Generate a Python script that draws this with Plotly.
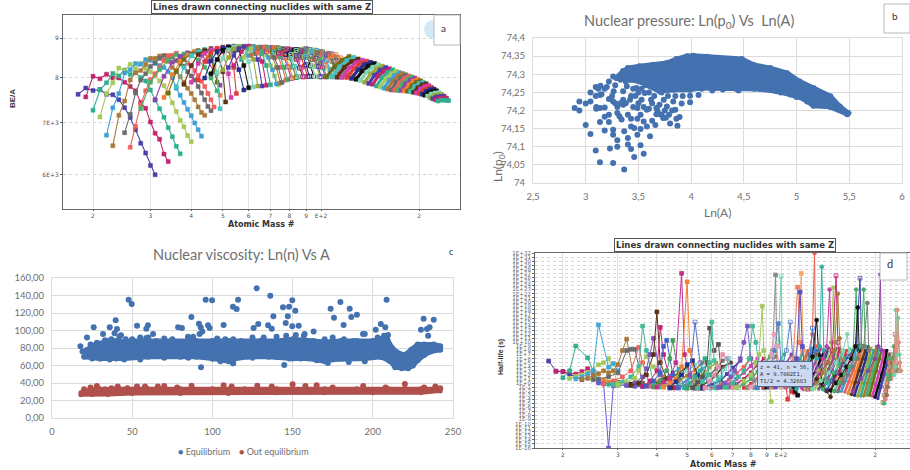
import plotly.graph_objects as go

W, H = 910, 470

# ---------- panel a: BE/A against mass number, one list per Z ----------
a_A = [
 [18,19,20,21,22,23,24,25,26,27,28,29,30,31],
 [19,20,21,22,23,24,25,26,27,28,29,30,31,32,33,34],
 [20,21,22,23,24,25,26,27,28,29,30,31,32,33,34,35,36,37],
 [21,22,23,24,25,26,27,28,29,30,31,32,33,34,35,36,37,38,39,40],
 [22,23,24,25,26,27,28,29,30,31,32,33,34,35,36,37,38,39,40,41,42,43],
 [23,24,25,26,27,28,29,30,31,32,33,34,35,36,37,38,39,40,41,42,43,44],
 [25,26,27,28,29,30,31,32,33,34,35,36,37,38,39,40,41,42,43,44,45,46],
 [26,27,28,29,30,31,32,33,34,35,36,37,38,39,40,41,42,43,44,45,46,47],
 [28,30,32,34,36,38,40,42,44,46,48],
 [31,33,35,37,39,41,43,45,47,49],
 [33,35,37,39,41,43,45,47,49],
 [34,36,38,40,42,44,46,48],
 [36,38,40,42,44,46,48,49],
 [38,40,42,44,46,48,50,51],
 [40,42,44,46,48,50,52,53],
 [42,44,46,48,50,52,54,55],
 [44,46,48,50,52,54,56,58],
 [46,48,50,52,54,56,58,60],
 [48,50,52,54,56,58,60,62],
 [50,52,54,56,58,60,62,64],
 [52,54,56,58,60,62,64,66],
 [54,57,60,62,64,66,68],
 [57,60,62,64,66,68,70],
 [58,61,64,66,68,70,72,74],
 [60,63,65,67,69,71,73],
 [61,64,67,69,71,73,75],
 [63,66,68,70,72,74,76],
 [64,67,70,72,74,76,78],
 [66,69,71,73,75,77,79],
 [68,71,73,75,77,79,81],
 [69,72,74,76,78,80,82],
 [71,74,76,78,80,82,84],
 [72,75,77,79,81,83,85],
 [74,77,79,81,84,86,88],
 [75,78,80,82,85,87,89],
 [77,80,83,85,87,89,91],
 [78,81,84,86,88,90,92],
 [80,83,86,89,91,93,95],
 [81,84,87,90,92,94,96],
 [83,86,89,92,95,97,99],
 [84,87,90,93,96,98,100],
 [86,89,92,95,99,101,103],
 [87,90,93,96,100,102,104],
 [89,93,96,99,103,106,108],
 [90,94,97,100,104,107,109],
 [93,97,100,104,108,111,113],
 [94,98,101,105,109,112,114],
 [97,101,105,109,113,116,118],
 [98,102,106,110,114,117,119],
 [100,104,108,112,116,120,123],
 [103,107,111,115,119,123,126],
 [104,110,116,122,126],[108,114,120,126,130],[112,118,124,130,134],[116,122,128,134,138],
 [120,126,132,138,142],[124,130,136,142,146],[128,134,140,146,150],[132,138,144,150,154],
 [136,142,148,154,158],[140,146,152,158,162],[144,150,156,162,166],[148,154,160,166,170],
 [152,158,164,170,174],[156,162,168,174,178],[160,166,172,178,182],[164,170,176,182,186],
 [168,174,180,186,190],[172,178,184,190,194],[176,182,188,194,198],[180,186,192,198,202],
 [184,190,196,202,206],[188,194,200,206,210],[192,198,204,210,214],[196,202,208,214,218],
 [200,206,212,218,222],[204,210,216,222,226],[208,214,220,226,230],[212,218,224,230,234],
 [216,222,228,234,238],[220,226,232,238,242],[224,230,236,242,244],[228,234,240,246],
]
a_BE = [
 [7620,7765,7705,7730,7620,7610,7500,7325,7115,6860,6590,6400,6170,6000],
 [7563,8040,7980,8090,8000,8000,7900,7800,7700,7440,7310,7020,6790,6670,6380,6240],
 [7270,7720,7885,8110,8050,8190,8080,8130,8010,7930,7720,7490,7300,7120,6900,6720,6530,6385],
 [7125,7640,7885,8240,8170,8330,8225,8350,8230,8150,8050,7930,7820,7640,7430,7240,7055,6920,6740,6620],
 [6750,7320,7640,8120,8200,8350,8330,8450,8430,8350,8300,8250,8150,8000,7760,7600,7440,7290,7150,7000,6860,6730],
 [6540,7160,7470,7950,8120,8180,8330,8480,8480,8540,8430,8400,8250,8180,8030,7900,7760,7640,7500,7340,7220,7160],
 [6800,7180,7650,7950,8100,8280,8370,8480,8550,8520,8510,8420,8350,8290,8150,8050,7950,7800,7650,7500,7350,7260],
 [6510,6930,7395,7700,7960,8100,8250,8430,8550,8560,8610,8510,8510,8360,8300,8180,8060,7920,7800,7640,7500,7340],
 [7300,7900,8200,8440,8570,8590,8560,8440,8260,8000,7700],
 [7500,8040,8380,8530,8620,8640,8560,8400,8150,7830],
 [7550,8080,8400,8570,8660,8640,8520,8300,7600],
 [7650,8150,8450,8600,8680,8690,8550,7900],
 [7800,8250,8550,8650,8710,8650,8100,7300],
 [7850,8300,8580,8680,8730,8640,8150,7450],
 [7900,8350,8610,8700,8740,8650,8100,7550],
 [7950,8400,8630,8730,8770,8680,8250,7640],
 [8000,8420,8650,8750,8780,8680,8200,7720],
 [8100,8450,8680,8770,8790,8700,8300,7770],
 [8130,8480,8700,8775,8790,8720,8400,7790],
 [8200,8500,8720,8780,8790,8760,8460,7810],
 [8250,8550,8730,8785,8790,8750,8450,7810],
 [8300,8650,8790,8780,8700,8400,7830],
 [8450,8720,8780,8750,8600,8300,7840],
 [8500,8740,8770,8720,8560,8300,8050,7840],
 [8550,8750,8770,8720,8500,8200,7860],
 [8560,8750,8770,8700,8520,8250,7880],
 [8600,8760,8770,8700,8500,8250,7900],
 [8620,8760,8760,8690,8520,8260,7950],
 [8650,8750,8760,8680,8520,8260,7960],
 [8650,8750,8750,8670,8500,8270,7990],
 [8650,8750,8745,8650,8500,8260,8000],
 [8650,8740,8730,8660,8500,8270,8010],
 [8640,8720,8720,8640,8480,8280,8030],
 [8620,8710,8720,8660,8460,8240,8030],
 [8600,8700,8710,8650,8450,8250,8030],
 [8600,8700,8700,8650,8500,8290,8040],
 [8580,8690,8700,8650,8520,8320,8040],
 [8590,8690,8700,8650,8510,8290,8040],
 [8580,8680,8700,8640,8500,8280,8040],
 [8560,8680,8720,8650,8490,8290,8030],
 [8550,8670,8720,8640,8480,8280,8030],
 [8540,8660,8710,8650,8470,8260,8030],
 [8530,8660,8700,8640,8460,8250,8030],
 [8510,8650,8690,8610,8430,8210,8030],
 [8500,8650,8680,8600,8420,8200,8030],
 [8460,8630,8650,8570,8410,8190,8030],
 [8450,8620,8640,8560,8400,8180,8030],
 [8410,8600,8610,8530,8340,8160,8040],
 [8400,8590,8600,8520,8330,8150,8040],
 [8350,8570,8590,8500,8320,8120,8040],
 [8300,8540,8570,8490,8300,8100,8030],
 [8030,8280,8430,8530,8440],[8030,8270,8420,8505,8420],[8020,8260,8400,8465,8380],[8010,8240,8370,8435,8350],
 [8010,8220,8350,8410,8320],[7990,8200,8320,8380,8290],[7970,8170,8290,8350,8260],[7940,8140,8260,8320,8230],
 [7900,8100,8220,8285,8200],[7870,8070,8190,8255,8170],[7850,8050,8160,8225,8140],[7810,8010,8130,8195,8110],
 [7790,7980,8100,8160,8080],[7760,7950,8060,8130,8050],[7740,7930,8040,8105,8030],[7720,7900,8010,8075,8000],
 [7715,7890,7990,8050,7970],[7710,7870,7970,8025,7950],[7705,7860,7950,8000,7920],[7700,7840,7930,7970,7890],
 [7690,7820,7900,7935,7860],[7680,7800,7870,7900,7820],[7665,7770,7840,7865,7790],[7650,7750,7800,7825,7750],
 [7640,7720,7770,7780,7710],[7620,7690,7730,7740,7670],[7600,7660,7690,7700,7630],[7580,7630,7650,7660,7590],
 [7545,7590,7610,7620,7560],[7520,7560,7570,7580,7520],[7500,7530,7540,7540,7490],[7470,7490,7490,7480],
]

# ---------- panel d: log10 half-life against mass number ----------
d_base_A = [
 [24,27,30,33,36,39],[27,30,33,36,39,42],[30,33,36,39,42,45],[32,35,38,41,44,47],[35,38,41,44,47,50],
 [38,41,44,47,50,53],[41,44,47,50,53,56],[44,47,50,53,56,59],[47,50,53,56,59,62],[50,53,56,59,62,65],
 [53,56,59,62,65,69],[56,60,64,67,70,74],[60,64,68,72,76,80],[64,68,72,76,80,84],[68,72,76,80,84,88],
 [72,76,80,84,88,92],[76,80,84,88,92,96],[82,86,90,94,98,102],[88,92,96,100,104,108],
]
d_base_N = [
 [1,0.5,0,-0.3,-0.6,0.5],[0.8,0.2,-0.3,-0.5,0,1.5],[0.2,-0.2,-0.5,-0.3,0.8,2.5],[-0.2,-0.5,-0.6,0.2,1.8,3.5],[-0.5,-0.7,0,1,2.5,4],
 [-0.7,-0.8,0.2,1.5,3,4.5],[-0.8,-0.6,0.5,1.8,3.2,5],[-0.9,-0.5,0.6,2,3.5,5],[-1,-0.5,0.6,2,3.8,5],[-1,-0.5,0.5,2,3.5,5.5],
 [-1,-0.5,0.5,2,4,5],[-1,-0.4,0.6,2.2,3.8,5.5],[-1.1,-0.3,0.8,2.4,4,6],[-1.1,-0.3,1,2.5,4.2,6],[-1.1,-0.2,1,2.6,4.5,6],
 [-1.2,-0.2,1,2.8,4.5,6.5],[-1.2,-0.2,1,2.8,4.5,6.5],[-1.2,-0.2,1.2,3,5,7],[-1.2,-0.2,1.2,3,5,7],
]
d_stripe_A = [
 [100,105,110,115,118],[104,109,114,119,122],[108,113,118,123,126],[112,117,122,127,130],
 [116,121,126,131,134],[120,125,130,135,138],[124,129,134,139,142],[128,133,138,143,146],
 [132,137,142,147,150],[136,141,146,151,154],[140,145,150,155,158],[144,149,154,159,162],
 [148,153,158,163,166],[152,157,162,167,170],[156,161,166,171,174],[160,165,170,175,178],
 [164,169,174,179,182],[168,173,178,183,186],[172,177,182,187,190],[176,181,186,191,194],
 [180,185,190,195,198],[184,189,194,199,202],[188,193,198,203,206],[192,197,202,207,210],
 [196,201,206,211,214],[200,205,210,215,218],[204,209,214,219,222],
]
d_stripe_N = [
 [-1,1,3,6,8],[-1,1,3.5,6,8],[-1,1.2,3.5,6,8.5],[-1.2,1,3.5,6.5,8],
 [-1.2,1,3.5,6.5,8.5],[-1.5,1,3.5,6.5,8],[-1.5,0.8,3.5,6.5,8.5],[-1.5,0.8,3.5,6.5,8],
 [-1.5,0.8,3.5,6,8.5],[-1.6,0.8,3.5,6,8.5],[-1.6,0.6,3,6,8],[-1.8,0.6,3,6,8],
 [-1.8,0.5,3,6,8.5],[-2,0.5,3,6,8],[-2,0.5,3,6,8.5],[-2.2,0.4,3,6,8],
 [-2.5,0.2,3,6,8.5],[-2.8,0.2,3,6,8],[-3,0,3,6,9],[-3.2,0,3,6,8.5],
 [-3.2,0,3,6,8],[-3.2,0,3,6,9],[-3,0,3,6,8.5],[-3,0,3,6,8],
 [-3.2,-0.5,2.5,5.5,8],[-3.5,-1,2,5,8],[-3.8,-1,2,5,7],
]
d_A = [
 [18,19,20,21,22,23],
 [19,20,22,23,24,25,26],
 [20,21,22,24,25,26,28,30],
 [21,22,23,24,26,27,28,30,32],
 [22,23,24,25,26,28,29,30,32],
 [23,24,25,26,27,28,29,30,31,32,34],
 [25,26,28,30,32,33,34,36],
 [26,27,28,29,30,32,34,36],
 [27,29,31,33,35,36,38,40],
 [29,31,33,35,36,37,39,41],
 [30,32,34,35,37,39,42],
 [32,34,36,37,38,39,41,44],
 [33,35,37,39,40,41,43,45],
 [36,38,40,41,42,44,46],
 [37,39,41,42,43,45,47],
 [39,41,43,44,45,47,50],
 [40,42,44,46,48,49,51,53],
 [42,44,46,48,50,51,53,55],
 [44,46,48,50,52,54,56],
 [47,49,51,53,55,57,59],
 [49,51,53,55,57,59,62],
 [52,54,56,58,59,61,63,65],
 [54,56,58,59,60,61,63,66],
 [57,59,61,63,65,67,70],
 [60,62,64,66,68,70,73],
 [63,66,69,71,74,76,78,80,83],
 [67,70,73,76,79,81,83,85,88],
 [72,76,80,83,85,87,88,90,93],
 [78,82,86,90,94,96,97,100],
 [82,86,90,94,98,100,101,104],
 [84,88,92,95,98,100,103],
 [80,85,90,93,95,97,100],
 [88,93,98,102,105,108,110],
 [90,95,100,105,109,111,113],
 [92,96,100,104,107,109,112],
 [94,99,104,110,114,116,118,120],
 [94,99,104,109,113,115,118],
 [96,102,108,112,115,117,120],
 [104,110,116,122,126,128,129,132],
 [108,114,120,124,126,128,131],
 [110,116,122,126,130,132,135],
 [112,118,124,130,133,135,137,140],
 [118,124,130,136,140,143,145,148],
 [120,126,132,138,144,147,149,152],
 [122,128,134,140,146,150,152,155],
 [124,130,136,142,148,152,154,157],
 [130,136,140,144,148],
 [126,134,142,150,158,163,166],
 [136,142,148,154,160,170,174,176],
 [140,146,152,158,164,174,179,181],
 [144,150,156,162,168,173,176,178],
 [148,154,160,166,172,180,184,186],
 [152,158,164,170,176,184,189,191],
 [170,180,190,200,205,208,210],
 [212,214,216,218,220,222,224],
 [214,216,218,220,222,226],
 [216,217,219,221,223,225],
 [218,220,222,224,226,228],
 [222,224,226,228,230,232,234],
 [226,228,230,232,234,236,238],
 [230,232,233,235,237,239,241],
 [228,231,234,236,238,240,242],
]
d_N = [
 [5.4,2.9,2.8,2.2,1.5,0.8],
 [2.9,2.8,2.2,2.8,3.5,2.5,0.5],
 [1.3,3,9.1,6.2,3,0.5,-0.3,-0.5],
 [1.1,1.6,2,2.6,4.5,5,6,0,-0.5],
 [1,1.5,2.2,3,14.3,3.9,4.8,3,-0.5],
 [0.9,1.2,1.8,2.3,3,2.5,3,4.5,8,10.8,0],
 [0.8,1,1.5,2.5,8,8.3,8.3,0],
 [0,-0.2,-16,-0.7,-0.5,-0.6,-0.8,-0.9],
 [-0.2,0.5,1.5,3,8.8,5,-0.8,-0.9],
 [-0.4,0.2,1.5,4,14,8,0,-1],
 [-0.5,0.2,1.2,3,6.5,4,-1],
 [-0.5,0,1.5,3.5,7,11,2,-1.2],
 [-0.6,0,2,7,17.5,5,1,-1.2],
 [-0.8,0.5,3,13.7,7,1,-1.2],
 [-0.8,0.5,2.5,9,10.5,2,-1.2],
 [-1,0.5,3,6,10.5,1.5,-1.3],
 [-1,0.2,1,5,27,7,2,-1.3],
 [-1,0,1,4,24.9,8,1.5,-1.3],
 [-1.2,0.3,2,4.5,5.5,2,-1.3],
 [-1.2,0,1.5,15,5,1.5,-1.2],
 [-1.2,0,1.5,3,6,2,-1.2],
 [-1.2,0.2,1.5,5,13.5,8,9.5,-1],
 [-1.3,0.3,2,5,15,5.5,1,-1],
 [-1.2,0.5,2,4,7,6,-1.2],
 [-1.2,0,1.5,3.5,6,2,-1.2],
 [-1.1,0,1.5,3,6,10,14,6,-1.1],
 [-1.1,0,1.5,3,6,14,10,4,-1.2],
 [-1.1,0.5,2,5,7,18.9,8,3,-4.6],
 [-1.2,0.5,2,4,8,26.6,5,-1],
 [-1.2,0.5,2.5,5,10,26.3,6,-1],
 [-1.2,0.5,3,8,14.6,5,-1],
 [-1,1,3,7,12,9,-1],
 [-1,0,1.5,3,-4,-2,-2.3],
 [-1,0.5,2,4,-0.5,-2,-3],
 [-1,0.5,3,8,15,6,-1],
 [-1,0.5,3,6,10,27,8,0],
 [-1,0.5,2.5,5,23.6,10,0],
 [-1,1,3,6,22.4,9,0],
 [-1,1,3,7,12,32,9,0],
 [-1,1,4,7,13.5,8,0],
 [-1,1.5,4,6.5,15.5,7,0],
 [-1.5,1,3.5,6,9,28.6,8,0],
 [-1.5,0.5,3,6,9,23,10,1],
 [-1.5,0.5,3,5,8,23.5,10,1],
 [-1.5,0,2.5,5,8,26.4,10,1],
 [-1.5,0,2.5,5,8,22,11,1],
 [1,-1,-2,-3.4,2],
 [-1.5,0.5,2.5,5,8,12,4],
 [-1.5,0.5,2.5,4.5,6,8,23,9],
 [-1.8,0.5,2.5,4.5,6.5,9,25.8,9],
 [-1.8,0,2,4,6,9,18.6,8],
 [-2,0,2,4,6,9,23,9],
 [-2,0,2,4,6,9,19.7,8],
 [-2,1,3,6,9,26.7,8],
 [-4.8,-3,-1,1,3,5,7],
 [-5,-2,0,2,6,3],
 [-4,-2,0,3,5,1],
 [-3,-1,1,3,5,3],
 [1,2,3,6,9,7,3],
 [2,3,6,12,9,4,3],
 [2,4,18,7,16,7,3],
 [3,5,8,18,10,5,3],
]
d_colors = ["#4b3fa8","#c2256f","#2fae8f","#a5c95a","#3fa8d8","#a97a3a","#6b6b6b","#6a5acd","#f0605e","#45b89a",
            "#a5c95a","#7a5ac0","#5c3317","#c2256f","#3f5fc8","#45a05a","#c2308f","#f47f2e","#24308f","#5a6fc8",
            "#2fae8f","#555555","#45c09a","#e88fa8","#44c1c1","#7a5ac0","#45b89a","#a5c95a","#8a8a8a","#6fd0b0",
            "#5a80c8","#e8a0b0","#e03a3a","#111111","#5a80c8","#f4a56e","#e88060","#5a4fc0","#e8604e","#3f6fd8",
            "#111111","#2fae9f","#c03fa0","#a5c95a","#c2256f","#a97a3a","#4a2f17","#7fd6b4","#45b06a","#3f3fa8",
            "#111111","#45b06a","#7a7a7a","#8e44ad","#a07050","#45b06a","#f0807e","#a07050","#45b06a","#c07060",
            "#6fd0a0","#e09080"]

# ---------- panel b ----------
b_lnA = [2.895,2.94,2.94,3.0,3.0,3.045,3.045,3.045,3.095,3.095,3.1,3.1,3.095,3.135,3.135,3.14,3.135,3.135,
 3.18,3.18,3.18,3.22,3.22,3.22,3.22,3.18,3.23,3.26,3.26,3.26,3.26,3.26,3.265,3.3,3.3,3.3,3.3,3.32,3.34,
 3.355,3.355,3.365,3.365,3.355,3.4,3.4,3.4,3.43,3.43,3.43,3.46,3.46,3.49,3.49,3.52,3.52,3.55,3.55,3.49,
 3.52,3.58,3.58,3.61,3.63,3.66,3.67,3.72,3.735,3.79,3.8,3.85,3.87,3.86,3.89,3.91,3.99,3.99,4.07,3.83,
 3.77,3.7,3.62,3.56,3.48,3.39,3.43,3.53,
 3.28,3.3,3.33,3.36,3.38,3.42,3.45,3.47,3.5,3.5,3.53,3.55,3.57,3.6,3.63,3.65,3.68,3.7,3.74,3.75,3.78,3.82,3.85,
 3.25,3.28,3.15,3.2,3.12,3.45,3.42,3.38,3.33,3.6,3.67,3.76,3.92,3.72,
 4.1,4.2,4.3,4.45,4.6,4.85,5.0,5.1]
b_lnp = [74.207,74.225,74.2,74.16,74.219,74.225,74.25,74.135,74.24,74.265,74.21,74.205,74.09,74.057,74.168,
 74.268,74.243,74.207,74.208,74.183,74.145,74.188,74.168,74.232,74.28,74.26,74.095,74.055,74.147,74.133,
 74.225,74.294,74.253,74.21,74.193,74.118,74.1,74.184,74.175,74.23,74.216,74.143,74.037,74.253,74.188,
 74.124,74.106,74.177,74.094,74.156,74.152,74.072,74.133,74.177,74.149,74.104,74.17,74.081,74.207,74.188,
 74.156,74.202,74.129,74.172,74.16,74.207,74.188,74.179,74.188,74.164,74.202,74.158,74.177,74.182,74.219,
 74.223,74.241,74.243,74.225,74.211,74.216,74.23,74.248,74.262,74.267,74.24,74.23,
 74.27,74.29,74.285,74.3,74.28,74.3,74.26,74.24,74.25,74.22,74.26,74.21,74.27,74.25,74.22,74.24,74.2,74.19,74.23,74.2,74.24,74.2,74.24,
 74.24,74.22,74.245,74.265,74.26,74.21,74.23,74.22,74.22,74.205,74.19,74.18,74.24,74.25,
 74.26,74.255,74.258,74.255,74.26,74.25,74.237,74.225]
b_edge_lnA = [3.355,3.4,3.51,3.64,3.77,3.86,3.96,4.02,4.15,4.34,4.48,4.59,4.75,4.91,5.03,5.16,5.32,5.41,5.49,
 5.48,5.32,5.16,5.07,4.94,4.81,4.65,4.43,4.24,4.08,3.99,3.83,3.7,3.61,3.51,3.42,3.29,3.355]
b_edge_lnp = [74.308,74.317,74.322,74.326,74.331,74.342,74.35,74.351,74.348,74.342,74.342,74.326,74.317,74.303,
 74.28,74.262,74.239,74.211,74.193,74.19,74.21,74.213,74.232,74.244,74.253,74.259,74.259,74.262,74.262,
 74.257,74.257,74.253,74.267,74.28,74.285,74.29,74.308]
b_xticks = [2.5,3,3.5,4,4.5,5,5.5,6]
b_xlabels = ["2,5","3","3,5","4","4,5","5","5,5","6"]
b_yticks = [74,74.05,74.1,74.15,74.2,74.25,74.3,74.35,74.4]
b_ylabels = ["74","74,05","74,1","74,15","74,2","74,25","74,3","74,35","74,4"]

# ---------- panel c ----------
c_out_A = [17.7,21.8,26,31.8,36,39.7,39,40.5,43,47.8,49.7,53,58.8,59.8,58.8,63,78.6,81,86.9,84.8,91.6,92.7,93.7,92.9,
 95.8,97.3,98.3,99.8,107,112.8,115.1,116,112.8,127.6,125.7,128.6,134.7,136.1,137,138,144,147.8,149.8,151.7,147,145.7,
 149.8,153.8,144.8,157.5,163.1,173.7,175.8,179.8,181.8,185.6,186.6,190.1,193.9,201.8,205,207.8,208.6,209.5,231.7,230,
 233.8,235.4,234.5,238,240.6,241.7]
c_out_n = [82,92,103.6,96,103.6,111.6,97,101.7,94.5,135.2,130.3,105.5,91.4,105.9,102,96,103.6,102.9,115.4,93,107.8,103.6,
 99,57.9,135.2,105.9,102.9,134.5,106.3,127.2,124.6,135.2,62.5,148.2,102.9,107.4,105.9,139.8,102,116.2,126.5,127.2,134.5,
 122.7,116.2,108.6,104.8,105.5,60.6,96,99,125,114.7,132.6,106.3,125,115.4,118,96,101,107.4,103.6,135.2,95,113.5,101,
 101.7,103.6,94,112.4,82,80]
c_blue_A = [19,22,26,30,35,40,45,50,55,60,70,80,90,100,110,120,130,140,150,160,170,180,190,200,205,209,212,216,220,224,228,
 232,238,242,242,236,232,228,225,222,218,214,211,205,195,185,175,170,160,150,135,122,112,108,100,90,80,60,45,40,30,20]
c_blue_n = [76,78,83,85,88,88,87,88,88,88,88,87,88,88,88,87,88,88,90,88,87,88,88,88,90,90,80,74,72,78,84,
 84,84,82,78,76,72,66,60,57,57,58,65,70,68,67,67,65,68,68,70,70,67,66,68,70,70,70,68,68,68,70]
c_top_A = [24,28,33,37,42,46,50,55,60,65,70,75,85,88,92,103,108,113,118,125,132,140,146,152,157,163,170,175,182,188,195,203,207]
c_top_n = [84,86,89,90,93,90,90,92,92,88,91,90,91,93,96,91,90,90,88,92,92,93,94,95,94,88,90,92,90,88,96,92,94]
c_low_A = [25,30,36,45,55,70,85,100,105,110,113,125,140,148,155,165,172,185,195,205,210]
c_low_n = [68,68,67,67,67,69,69,68,65,65,62.5,69,70,68,68,66,63,64,65,70,66]
c_red_A = [18,20,25,30,40,60,80,100,120,140,150,170,190,210,220,230,242,242,230,200,170,140,110,80,50,35,25,18]
c_red_n = [29,31,33,33.5,33.5,33.5,33.5,33.5,33.5,33.5,34,33.5,33.5,33.5,34,33.5,33.5,31,29,29,29,29,28,28,28,27,27,26.5]
c_bump_A = [20,24,28,33,37,41,47,53,58,66,70,78,87,107,112,128,137,150,158,165,175,194,208,220,232,239,242]
c_bump_n = [33,35,36.5,33,34,36,34,36,36,36,36.5,35,37,37.5,36,37,36,38.5,36.5,37.5,35,36.5,35,39,35,36,34]
c_xticks = [0,50,100,150,200,250]
c_yticks = [0,20,40,60,80,100,120,140,160]
c_ylabels = ["0,00","20,00","40,00","60,00","80,00","100,00","120,00","140,00","160,00"]

# ---------- log axes ticks ----------
mass_ticks = [20,30,40,50,60,70,80,90,100,200]
mass_labels = ["2","3","4","5","6","7","8","9","E+2","2"]
be_ticks = [6000,7000,8000,9000]
be_labels = ["6E+3","7E+3","8","9"]
d_decades = list(range(-16, 33))
d_ticks = [10.0**n for n in d_decades]
d_labels = [f"1E{n:+d}" for n in d_decades]

palette = ["#4b3fa8","#c2256f","#2fae8f","#a5c95a","#3fa0d8","#a97a3a","#6b6b6b","#f0605e","#45b06a","#8e44ad",
           "#f47f2e","#6b6f1a","#44c1c1","#5c3317","#cf3fb0","#e03a3a","#24308f","#111111","#7fd6b4","#9aa83a"]
BLUE, RED = "#4472b0", "#b0504c"


def hx(*px):
    return [p / W for p in px]


def vy(top, bot):
    return [1 - bot / H, 1 - top / H]


fig = go.Figure()

# panel a
for i, (xs, ys) in enumerate(zip(a_A, a_BE)):
    thick = xs[0] >= 104
    hollow = 68 <= xs[0] < 104
    fig.add_trace(go.Scatter(x=xs, y=ys, mode="lines+markers", xaxis="x", yaxis="y", showlegend=False,
                             line=dict(color=palette[i % 20], width=3.2 if thick else 1.1),
                             marker=dict(symbol="square-open" if hollow else "square", size=4,
                                         color=palette[i % 20],
                                         line=dict(width=1.0 if hollow else 0.5, color=palette[i % 20]))))
# panel d
for i, (xs, ns) in enumerate(zip(d_base_A, d_base_N)):
    c = palette[(i * 7 + 3) % 20]
    fig.add_trace(go.Scatter(x=xs, y=[10.0 ** n for n in ns], mode="lines+markers", xaxis="x4", yaxis="y4",
                             showlegend=False, line=dict(color=c, width=1.6),
                             marker=dict(symbol="square", size=3.8, color=c)))
for i, (xs, ns) in enumerate(zip(d_stripe_A, d_stripe_N)):
    c = palette[(i * 3 + 2) % 20]
    fig.add_trace(go.Scatter(x=xs, y=[10.0 ** n for n in ns], mode="lines+markers", xaxis="x4", yaxis="y4",
                             showlegend=False, line=dict(color=c, width=2.6),
                             marker=dict(symbol="circle", size=3.5, color=c)))
for i, (xs, ns) in enumerate(zip(d_A, d_N)):
    c = d_colors[i]
    sym = "square-open" if (i % 5 == 4 and i > 15) else ("circle" if xs[0] >= 100 else "square")
    fig.add_trace(go.Scatter(x=xs, y=[10.0 ** n for n in ns], mode="lines+markers", xaxis="x4", yaxis="y4",
                             showlegend=False, line=dict(color=c, width=1.0),
                             marker=dict(symbol=sym, size=3.8, color=c, line=dict(width=0.8, color=c))))
# panel b
fig.add_trace(go.Scatter(x=b_edge_lnA, y=b_edge_lnp, mode="lines+markers", fill="toself", fillcolor=BLUE,
                         xaxis="x2", yaxis="y2", showlegend=False, line=dict(color=BLUE, width=5),
                         marker=dict(color=BLUE, size=6)))
fig.add_trace(go.Scatter(x=b_lnA, y=b_lnp, mode="markers", xaxis="x2", yaxis="y2", showlegend=False,
                         marker=dict(color=BLUE, size=6)))
# panel c
fig.add_trace(go.Scatter(x=c_blue_A, y=c_blue_n, mode="lines+markers", fill="toself", fillcolor=BLUE,
                         xaxis="x3", yaxis="y3", showlegend=False, line=dict(color=BLUE, width=5),
                         marker=dict(color=BLUE, size=6)))
fig.add_trace(go.Scatter(x=c_out_A + c_top_A + c_low_A, y=c_out_n + c_top_n + c_low_n, mode="markers",
                         xaxis="x3", yaxis="y3", showlegend=False, marker=dict(color=BLUE, size=6)))
fig.add_trace(go.Scatter(x=c_red_A, y=c_red_n, mode="lines+markers", fill="toself", fillcolor=RED,
                         xaxis="x3", yaxis="y3", showlegend=False, line=dict(color=RED, width=4),
                         marker=dict(color=RED, size=5)))
fig.add_trace(go.Scatter(x=c_bump_A, y=c_bump_n, mode="markers", xaxis="x3", yaxis="y3", showlegend=False,
                         marker=dict(color=RED, size=6)))

dj = "DejaVu Sans"
xl = "Lato"
mass_axis = dict(type="log", tickmode="array", tickvals=mass_ticks, ticktext=mass_labels, ticks="outside", ticklen=1,
                 tickcolor="#555", tickfont=dict(family=dj, size=6, color="#555"), showgrid=True, ticklabelstandoff=0,
                 gridcolor="#e2e2e2", gridwidth=1, showline=True, linecolor="#666", mirror=True, zeroline=False)
gray_axis = dict(showgrid=True, gridcolor="#dcdcdc", showline=True, linecolor="#dcdcdc", mirror=True, zeroline=False,
                 tickfont=dict(family=xl, size=9.5, color="#6f6f6f"), tickmode="array", ticks="", ticklabelstandoff=5)

fig.update_layout(
    width=W, height=H, margin=dict(l=0, r=0, t=0, b=0, autoexpand=False), autosize=False, showlegend=False,
    paper_bgcolor="white", plot_bgcolor="white", hovermode=False,
    xaxis=dict(mass_axis, domain=hx(63, 460), range=[1.209, 2.426], anchor="y"),
    yaxis=dict(type="log", domain=vy(14.5, 209), range=[3.734, 3.985], anchor="x", tickmode="array",
               tickvals=be_ticks, ticktext=be_labels, ticks="outside", ticklen=2, tickcolor="#555",
               tickfont=dict(family=dj, size=6, color="#555"), showgrid=True, gridcolor="#d4d4d4",
               griddash="dot", showline=True, linecolor="#666", mirror=True, zeroline=False),
    xaxis2=dict(gray_axis, domain=hx(533, 902), range=[2.5, 6], anchor="y2", tickvals=b_xticks, ticktext=b_xlabels),
    yaxis2=dict(gray_axis, domain=vy(38, 183), range=[74, 74.4], anchor="x2", tickvals=b_yticks, ticktext=b_ylabels),
    xaxis3=dict(gray_axis, domain=hx(52, 453), range=[0, 250], anchor="y3", tickvals=c_xticks),
    yaxis3=dict(gray_axis, domain=vy(278, 418), range=[0, 160], anchor="x3", tickvals=c_yticks, ticktext=c_ylabels),
    xaxis4=dict(mass_axis, domain=hx(535, 910), range=[1.2115, 2.413], anchor="y4"),
    yaxis4=dict(type="log", domain=vy(253, 448), range=[-16, 32], anchor="x4", tickmode="array",
                tickvals=d_ticks, ticktext=d_labels, ticks="outside", ticklen=2, tickcolor="#666",
                tickfont=dict(family=dj, size=5.5, color="#666"), showgrid=True, gridcolor="#d6d6d6",
                griddash="dot", showline=True, linecolor="#666", mirror=True, zeroline=False),
)


def note(px, py, text, **kw):
    base = dict(x=px / W, y=1 - py / H, xref="paper", yref="paper", text=text, showarrow=False,
                xanchor="center", yanchor="middle")
    base.update(kw)
    fig.add_annotation(**base)


box = dict(bordercolor="#555", borderwidth=1, bgcolor="white", borderpad=1)
mono = dict(family=dj, size=8.5, color="#333")
note(262, 7, "<b>Lines drawn connecting nuclides with same Z</b>", font=mono, **box)
note(725, 245.5, "<b>Lines drawn connecting nuclides with same Z</b>", font=mono, **box)
note(261, 224, "<b>Atomic Mass #</b>", font=dict(family=dj, size=8, color="#333"))
note(723, 464, "<b>Atomic Mass #</b>", font=dict(family=dj, size=8, color="#333"))
note(12, 99, "<b>BE/A</b>", font=dict(family="Liberation Sans", size=8, color="#333"), textangle=-90)
note(501, 357, "<b>Half-life (s)</b>", font=dict(family="Liberation Sans", size=7, color="#333"), textangle=-90)
note(689, 22, "Nuclear pressure: Ln(p<sub>0</sub>) Vs  Ln(A)", font=dict(family=xl, size=14.5, color="#6f6f6f"))
note(241, 255, "Nuclear viscosity: Ln(n) Vs A", font=dict(family=xl, size=14.5, color="#6f6f6f"))
note(717, 212, "Ln(A)", font=dict(family=xl, size=12, color="#6f6f6f"))
note(498, 167, "Ln(p<sub>0</sub>)", font=dict(family=xl, size=12, color="#6f6f6f"), textangle=-90)
note(785, 374, "z = 41, n = 56,<br>A = 9.7002E1,<br>T1/2 = 4.32683",
     font=dict(family="DejaVu Sans Mono", size=5.5, color="#333"), align="left",
     bgcolor="#cdd8f2", bordercolor="#5a6a9a", borderwidth=1, borderpad=2)
note(204, 451, f'<span style="color:{BLUE}">●</span> Equilibrium', font=dict(family=xl, size=9, color="#6f6f6f"))
note(274, 451, f'<span style="color:{RED}">●</span> Out equilibrium', font=dict(family=xl, size=9, color="#6f6f6f"))

# corner label boxes
for x0, y0, x1, y1 in [(434, 15, 460, 45), (884, 4, 910, 33), (880, 253, 907, 280)]:
    fig.add_shape(type="rect", xref="paper", yref="paper", x0=x0 / W, x1=x1 / W, y0=1 - y1 / H, y1=1 - y0 / H,
                  fillcolor="white", line=dict(color="#b8b8b8", width=1), layer="above")
fig.add_shape(type="circle", xref="paper", yref="paper", x0=424 / W, x1=442 / W, y0=1 - 39 / H, y1=1 - 20 / H,
              fillcolor="#d4e9f7", line=dict(width=0), layer="below")
note(443, 28, "a", font=dict(family=xl, size=10, color="#333"))
note(895, 16, "b", font=dict(family=xl, size=10, color="#333"))
note(451, 251, "c", font=dict(family=xl, size=9, color="#333"))
note(890, 263, "d", font=dict(family=xl, size=11, color="#333"))

fig.write_html("out.html", config={"displayModeBar": False},
               post_script="document.body.style.margin='0';document.body.style.overflow='hidden';")
